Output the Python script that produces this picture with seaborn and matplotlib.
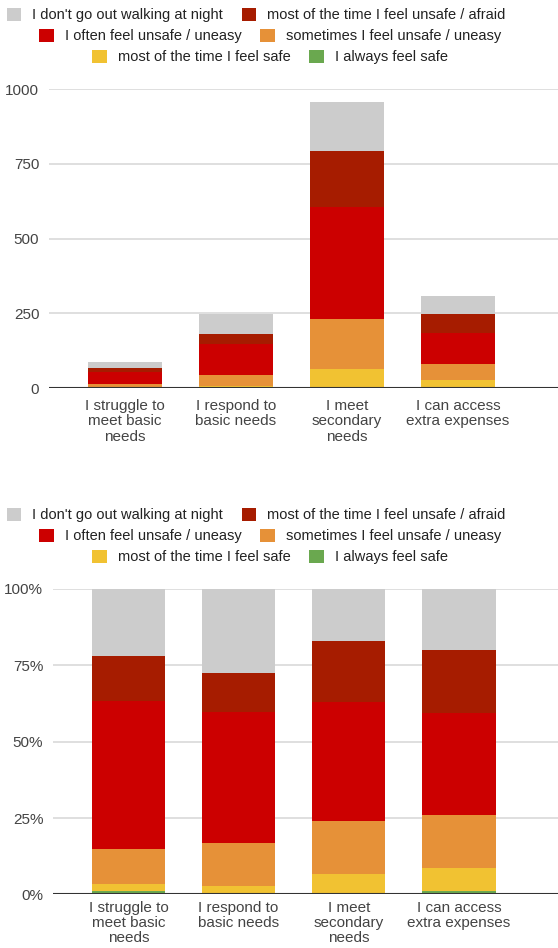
import numpy as np
import pandas as pd
import matplotlib
matplotlib.use("Agg")
import matplotlib.pyplot as plt
from matplotlib.patches import Patch
import seaborn as sns

categories = [
    "I struggle to\nmeet basic\nneeds",
    "I respond to\nbasic needs",
    "I meet\nsecondary\nneeds",
    "I can access\nextra expenses",
]

# responses per category, bottom layer first
always_safe = [1, 0, 5, 3]
mostly_safe = [2, 7, 58, 24]
sometimes_unsafe = [10, 35, 168, 53]
often_unsafe = [42, 106, 373, 104]
mostly_unsafe = [13, 32, 190, 63]
no_walking = [19, 68, 164, 62]

series_names = [
    "I always feel safe",
    "most of the time I feel safe",
    "sometimes I feel unsafe / uneasy",
    "I often feel unsafe / uneasy",
    "most of the time I feel unsafe / afraid",
    "I don't go out walking at night",
]
series_colors = ["#6aa84f", "#f1c232", "#e69138", "#cc0000", "#a61c00", "#cccccc"]

counts = pd.DataFrame(
    np.array([always_safe, mostly_safe, sometimes_unsafe, often_unsafe,
              mostly_unsafe, no_walking]).T,
    index=categories, columns=series_names,
)
shares = counts.div(counts.sum(axis=1), axis=0)

sns.set_style("white")
plt.rcParams["font.family"] = ["Liberation Sans", "DejaVu Sans"]

fig = plt.figure(figsize=(5.58, 9.48), dpi=100)
ax_top = fig.add_axes([0.0878, 0.5907, 0.9122, 0.3154])
ax_bot = fig.add_axes([0.095, 0.0566, 0.905, 0.3221])


def stacked(ax, df, xpad):
    cum = df.cumsum(axis=1)
    # draw tallest layer first so lower layers sit on top of it
    for name, color in zip(df.columns[::-1], series_colors[::-1]):
        sns.barplot(x=cum.index, y=cum[name].values, color=color, width=0.667,
                    saturation=1, linewidth=0, ax=ax, zorder=2)
    ax.set_xlim(-0.685, 3.9)
    ax.grid(axis="y", color="#d9d9d9", linewidth=1.2, zorder=0)
    ax.grid(axis="x", visible=False)
    ax.axhline(0, color="#333333", linewidth=1.5, zorder=3)
    sns.despine(ax=ax, left=True, bottom=True)
    ax.tick_params(axis="both", length=0, labelsize=11, colors="#444444")
    ax.tick_params(axis="y", pad=7)
    ax.tick_params(axis="x", pad=xpad)
    ax.set_xlabel("")
    ax.set_ylabel("")


stacked(ax_top, counts, 8)
ax_top.set_ylim(0, 1000)
ax_top.set_yticks([0, 250, 500, 750, 1000])

stacked(ax_bot, shares, 5)
ax_bot.set_ylim(0, 1)
ax_bot.set_yticks([0, 0.25, 0.5, 0.75, 1.0])
ax_bot.set_yticklabels(["0%", "25%", "50%", "75%", "100%"])

ax_top.set_xticks(range(len(categories)))
ax_top.set_xticklabels(categories, linespacing=1.12, va="top")
ax_bot.set_xticks(range(len(categories)))
ax_bot.set_xticklabels(categories, linespacing=1.06, va="top")

# legend rows (Google-chart style, each row centered)
legend_rows = [
    ([5, 4], 0.459),
    ([3, 2], 0.484),
    ([1, 0], 0.484),
]


def add_legend(y_rows):
    for (idx, cx), cy in zip(legend_rows, y_rows):
        handles = [Patch(facecolor=series_colors[i], edgecolor="none") for i in idx]
        labels = [series_names[i] for i in idx]
        fig.legend(handles, labels, loc="center", bbox_to_anchor=(cx, cy), ncol=2,
                   frameon=False, handlelength=1.0, handleheight=1.0,
                   handletextpad=0.75, columnspacing=1.3, borderpad=0,
                   fontsize=10.5, labelcolor="#222222")


add_legend([1 - 15 / 948, 1 - 36 / 948, 1 - 57 / 948])
add_legend([1 - 515 / 948, 1 - 536 / 948, 1 - 557 / 948])

fig.savefig("out.png", dpi=100)
